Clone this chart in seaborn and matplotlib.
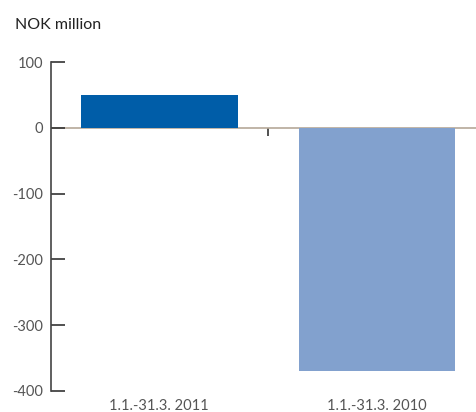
import matplotlib
matplotlib.use("Agg")
import matplotlib.pyplot as plt
import seaborn as sns

categories = ["1.1.-31.3. 2011", "1.1.-31.3. 2010"]
values = [50, -370]
colors = ["#005DA8", "#82A1CE"]
yticks = [100, 0, -100, -200, -300, -400]

sns.set_style("white")
plt.rcParams["font.family"] = ["Lato", "DejaVu Sans"]

fig = plt.figure(figsize=(4.77, 4.12), dpi=100)
ax = fig.add_axes([51.5 / 477, 21 / 412, 1 - 51.5 / 477, (391 - 62) / 412])

sns.barplot(x=categories, y=values, hue=categories, palette=colors,
            width=0.72, legend=False, ax=ax, saturation=1, linewidth=0)

ax.set_ylim(-400, 100)
ax.set_xlim(-0.495, 1.46)
ax.set_yticks(yticks)
ax.set_yticklabels([str(v) for v in yticks])
for s in ["top", "right", "bottom"]:
    ax.spines[s].set_visible(False)
ax.spines["left"].set_color("#444444")
ax.spines["left"].set_linewidth(1.2)
ax.tick_params(axis="y", left=True, right=False, direction="in", length=10, width=1.2,
               color="#333333", labelsize=10.5, labelcolor="#555555", pad=6)
ax.tick_params(axis="x", bottom=False, length=0, labelsize=10.5, labelcolor="#555555", pad=6)
ax.set_xlabel("")
ax.set_ylabel("")

sec = ax.secondary_xaxis(0.8)
sec.set_xticks([0.5])
sec.set_xticklabels([])
sec.tick_params(direction="in", length=6, width=1.2, color="#333333")
for sp in sec.spines.values():
    sp.set_color("#B5A898")
    sp.set_linewidth(1.2)

fig.text(15 / 477, 1 - 25 / 412, "NOK million", fontsize=11.5, color="#222222",
         va="center", ha="left")

fig.savefig("out.png", dpi=100)
